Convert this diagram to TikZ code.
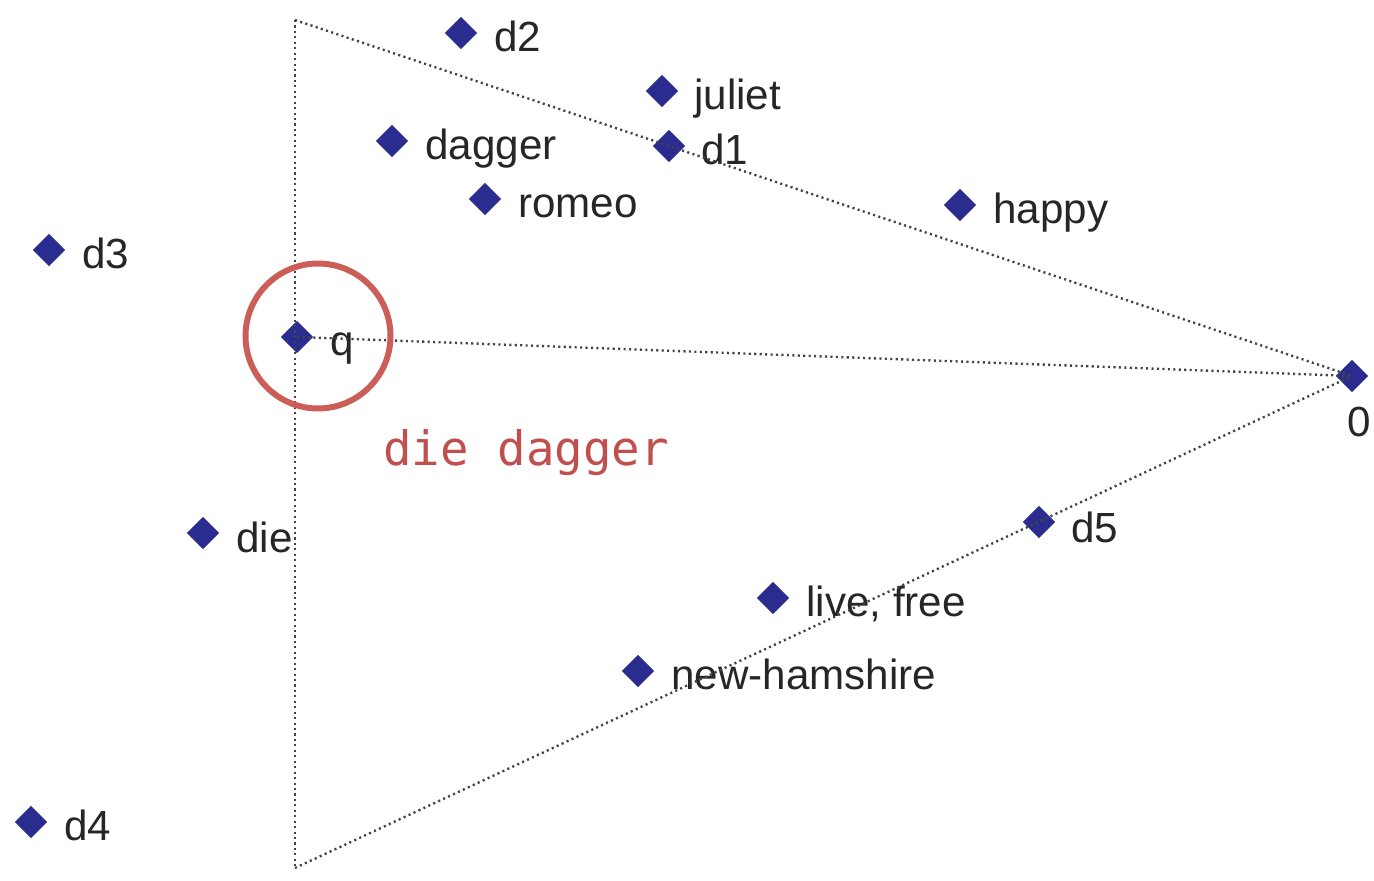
\documentclass[tikz,border=0pt]{standalone}
\usepackage{fontspec}
\setmainfont{Liberation Sans}
\newfontfamily\monofnt{DejaVu Sans Mono}
\usetikzlibrary{shapes.geometric}
\definecolor{ptblue}{HTML}{2A2D8F}
\definecolor{lnred}{HTML}{CB5F58}
\definecolor{txtred}{HTML}{C0504D}
\definecolor{lngray}{HTML}{444444}
\definecolor{txtgray}{HTML}{262626}
\tikzset{
  pt/.style={diamond, fill=ptblue, draw=none, inner sep=0pt, minimum width=0.65cm, minimum height=0.65cm},
  lbl/.style={anchor=base west, inner sep=0pt, text=txtgray, font=\fontsize{24}{24}\selectfont},
  dotline/.style={draw=lngray, line width=1.35pt, dash pattern=on 1.2pt off 1.9pt},
}
\begin{document}
\begin{tikzpicture}[x=0.02cm, y=-0.02cm]
\useasboundingbox (0,0) rectangle (1374,881);
% points
\node[pt] (d2) at (461,33) {};
\node[pt] (juliet) at (662,91) {};
\node[pt] (d1) at (669,146) {};
\node[pt] (dagger) at (392,141) {};
\node[pt] (romeo) at (485,199) {};
\node[pt] (happy) at (960,205) {};
\node[pt] (d3) at (49,250) {};
\node[pt] (q) at (297,337) {};
\node[pt] (o) at (1352,376) {};
\node[pt] (die) at (203,533) {};
\node[pt] (d5) at (1039,522) {};
\node[pt] (live) at (773,598) {};
\node[pt] (nh) at (638,671) {};
\node[pt] (d4) at (31,822) {};
% labels
\node[lbl] (d2l) at (494,52) {d2};
\node[lbl] (julietl) at (694,110) {juliet};
\node[lbl] (d1l) at (701,165) {d1};
\node[lbl] (daggerl) at (425,160) {dagger};
\node[lbl] (romeol) at (518,218) {romeo};
\node[lbl] (happyl) at (993,224) {happy};
\node[lbl] (d3l) at (82,269) {d3};
\node[lbl] (ql) at (330,356) {q};
\node[lbl, anchor=base] (ol) at (1359,437) {0};
\node[lbl] (diel) at (236,553) {die};
\node[lbl] (d5l) at (1071,543) {d5};
\node[lbl] (livel) at (806,617) {live, free};
\node[lbl] (nhl) at (671,690) {new-hamshire};
\node[lbl] (d4l) at (64,841) {d4};
% triangle lines
\coordinate (top) at (295,20);
\coordinate (bot) at (295,868);
\draw[dotline] (top) -- (bot);
\draw[dotline] (top) -- (o.center);
\draw[dotline] (bot) -- (o.center);
\draw[dotline] (q.center) -- (o.center);
% highlight circle and query text
\node[circle, draw=lnred, line width=3.4pt, minimum size=2.9cm, inner sep=0pt] (hl) at (318,336) {};
\node[anchor=base west, inner sep=0pt, text=txtred, font=\monofnt\fontsize{27}{27}\selectfont] (query) at (383,466) {die dagger};
\end{tikzpicture}
\end{document}
